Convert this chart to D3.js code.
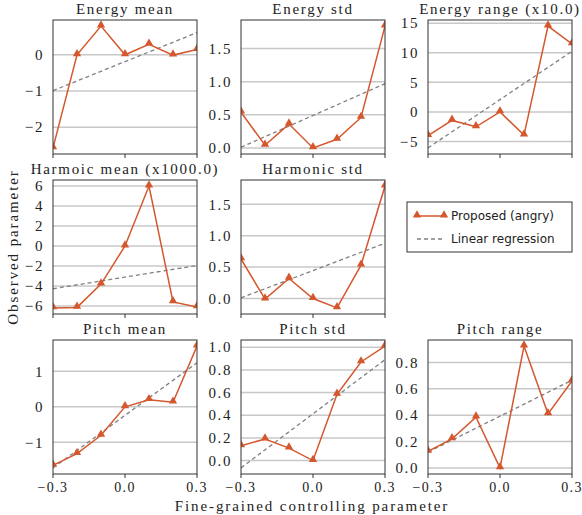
<!DOCTYPE html>
<html>
<head>
<meta charset="utf-8">
<script src="https://cdn.jsdelivr.net/npm/d3@7"></script>
<style>
  body { margin: 0; background: #fff; }
  text { font-family: "Times New Roman", "Liberation Serif", Times, serif; fill: #222; }
</style>
</head>
<body>
<script>
const width = 582,
  height = 515;

// x positions (fine-grained controlling parameter)
const xValues = [-0.3, -0.2, -0.1, 0.0, 0.1, 0.2, 0.3];
const xTicks = [-0.3, 0.0, 0.3];

// observed values, one array per panel
const energyMean = [-2.57, 0.0, 0.79, 0.0, 0.29, -0.01, 0.145];
const energyStd = [0.54, 0.04, 0.36, 0.0, 0.13, 0.46, 1.84];
const energyRange = [-4.0, -1.43, -2.5, 0.0, -3.9, 14.5, 11.5];
const harmonicMean = [-6.2, -6.15, -3.82, 0.0, 6.0, -5.6, -6.1];
const harmonicStd = [0.63, -0.01, 0.32, 0.0, -0.15, 0.53, 1.79];
const pitchMean = [-1.65, -1.32, -0.8, 0.0, 0.2, 0.13, 1.71];
const pitchStd = [0.13, 0.19, 0.11, 0.0, 0.585, 0.87, 1.01];
const pitchRange = [0.126, 0.22, 0.385, 0.0, 0.924, 0.41, 0.66];

// linear regression values at x = -0.3 and x = 0.3
const energyMeanReg = [-0.99, 0.61];
const energyStdReg = [0.01, 0.97];
const energyRangeReg = [-6.07, 10.25];
const harmonicMeanReg = [-4.28, -1.95];
const harmonicStdReg = [0.01, 0.88];
const pitchMeanReg = [-1.72, 1.24];
const pitchStdReg = [-0.065, 0.89];
const pitchRangeReg = [0.12, 0.665];

// y tick values per panel
const energyMeanTicks = [-2, -1, 0];
const energyStdTicks = [0, 0.5, 1.0, 1.5];
const energyRangeTicks = [-5, 0, 5, 10, 15];
const harmonicMeanTicks = [-6, -4, -2, 0, 2, 4, 6];
const harmonicStdTicks = [0, 0.5, 1.0, 1.5];
const pitchMeanTicks = [-1, 0, 1];
const pitchStdTicks = [0, 0.2, 0.4, 0.6, 0.8, 1.0];
const pitchRangeTicks = [0, 0.2, 0.4, 0.6, 0.8];

const titles = ["Energy mean", "Energy std", "Energy range (x10.0)",
  "Harmoic mean (x1000.0)", "Harmonic std",
  "Pitch mean", "Pitch std", "Pitch range"];

const seriesName = "Proposed (angry)";
const regName = "Linear regression";

const panels = [
  { title: titles[0], values: energyMean, reg: energyMeanReg, ticks: energyMeanTicks, fmt: "d", col: 0, row: 0 },
  { title: titles[1], values: energyStd, reg: energyStdReg, ticks: energyStdTicks, fmt: ".1f", col: 1, row: 0 },
  { title: titles[2], values: energyRange, reg: energyRangeReg, ticks: energyRangeTicks, fmt: "d", col: 2, row: 0 },
  { title: titles[3], values: harmonicMean, reg: harmonicMeanReg, ticks: harmonicMeanTicks, fmt: "d", col: 0, row: 1 },
  { title: titles[4], values: harmonicStd, reg: harmonicStdReg, ticks: harmonicStdTicks, fmt: ".1f", col: 1, row: 1 },
  { title: titles[5], values: pitchMean, reg: pitchMeanReg, ticks: pitchMeanTicks, fmt: "d", col: 0, row: 2 },
  { title: titles[6], values: pitchStd, reg: pitchStdReg, ticks: pitchStdTicks, fmt: ".1f", col: 1, row: 2 },
  { title: titles[7], values: pitchRange, reg: pitchRangeReg, ticks: pitchRangeTicks, fmt: ".1f", col: 2, row: 2 }
];

const colLeft = [53, 241, 428];
const rowTop = [20, 180, 340];
const pw = 144,
  ph = 134;

const lineColor = "#d4572d";

const svg = d3
  .select("body")
  .append("svg")
  .attr("width", width)
  .attr("height", height);

const tri = d3.symbol().type(d3.symbolTriangle).size(30);

const xScale = d3.scaleLinear().domain([-0.3, 0.3]).range([0, pw]);

panels.forEach((p, i) => {
  const g = svg
    .append("g")
    .attr("transform", `translate(${colLeft[p.col]},${rowTop[p.row]})`);

  // 5% padding around data + regression, like matplotlib autoscale
  const all = p.values.concat(p.reg);
  const lo = d3.min(all),
    hi = d3.max(all),
    pad = (hi - lo) * 0.05;
  const yScale = d3.scaleLinear().domain([lo - pad, hi + pad]).range([ph, 0]);

  g.append("clipPath")
    .attr("id", "clip" + i)
    .append("rect")
    .attr("width", pw)
    .attr("height", ph);

  // grid
  g.selectAll(".grid")
    .data(p.ticks)
    .enter()
    .append("line")
    .attr("x1", 0)
    .attr("x2", pw)
    .attr("y1", d => yScale(d))
    .attr("y2", d => yScale(d))
    .attr("stroke", "#c8c8c8")
    .attr("stroke-width", 1.5);

  // y tick labels
  const fmt = d3.format(p.fmt);
  g.selectAll(".ylab")
    .data(p.ticks)
    .enter()
    .append("text")
    .attr("x", -9)
    .attr("y", d => yScale(d))
    .attr("dy", "0.35em")
    .attr("text-anchor", "end")
    .style("font-size", "15px")
    .style("letter-spacing", "1.6px")
    .text(d => fmt(d));

  // x ticks
  g.selectAll(".xtick")
    .data(xTicks)
    .enter()
    .append("line")
    .attr("x1", d => xScale(d))
    .attr("x2", d => xScale(d))
    .attr("y1", ph)
    .attr("y2", ph + 4)
    .attr("stroke", "#333");

  if (p.row === 2) {
    g.selectAll(".xlab")
      .data(xTicks)
      .enter()
      .append("text")
      .attr("x", d => xScale(d))
      .attr("y", ph + 18)
      .attr("text-anchor", "middle")
      .style("font-size", "14px")
      .style("letter-spacing", "1.4px")
      .text(d => d3.format(".1f")(d));
  }

  const plot = g.append("g").attr("clip-path", `url(#clip${i})`);

  // regression
  plot
    .append("line")
    .attr("x1", xScale(-0.3))
    .attr("x2", xScale(0.3))
    .attr("y1", yScale(p.reg[0]))
    .attr("y2", yScale(p.reg[1]))
    .attr("stroke", "#808080")
    .attr("stroke-width", 1.3)
    .attr("stroke-dasharray", "4,3");

  const line = d3
    .line()
    .x((d, j) => xScale(xValues[j]))
    .y(d => yScale(d));

  plot
    .append("path")
    .attr("d", line(p.values))
    .attr("fill", "none")
    .attr("stroke", lineColor)
    .attr("stroke-width", 1.5);

  plot
    .selectAll(".pt")
    .data(p.values)
    .enter()
    .append("path")
    .attr("d", tri)
    .attr("transform", (d, j) => `translate(${xScale(xValues[j])},${yScale(d) - 1})`)
    .attr("fill", lineColor);

  // frame
  g.append("rect")
    .attr("width", pw)
    .attr("height", ph)
    .attr("fill", "none")
    .attr("stroke", "#333")
    .attr("stroke-width", 1);

  // title
  g.append("text")
    .attr("x", pw / 2)
    .attr("y", -6)
    .attr("text-anchor", "middle")
    .style("font-size", "15px")
    .style("letter-spacing", "1.7px")
    .text(p.title);
});

// legend in the empty slot
const legend = svg.append("g").attr("transform", "translate(407,202)");
legend
  .append("rect")
  .attr("width", 165)
  .attr("height", 50)
  .attr("fill", "#fff")
  .attr("stroke", "#333");

legend
  .append("line")
  .attr("x1", 10)
  .attr("x2", 37)
  .attr("y1", 14)
  .attr("y2", 14)
  .attr("stroke", lineColor)
  .attr("stroke-width", 1.5);
[10, 37].forEach(x =>
  legend
    .append("path")
    .attr("d", tri)
    .attr("transform", `translate(${x},13)`)
    .attr("fill", lineColor)
);
legend
  .append("line")
  .attr("x1", 10)
  .attr("x2", 37)
  .attr("y1", 37)
  .attr("y2", 37)
  .attr("stroke", "#808080")
  .attr("stroke-width", 1.3)
  .attr("stroke-dasharray", "4,3");

legend
  .selectAll(".ltxt")
  .data([seriesName, regName])
  .enter()
  .append("text")
  .attr("x", 44)
  .attr("y", (d, i) => 14 + i * 23)
  .attr("dy", "0.35em")
  .style("font-family", "'DejaVu Sans', Verdana, sans-serif")
  .style("font-size", "12px")
  .text(d => d);

// axis labels
svg
  .append("text")
  .attr("transform", `translate(18,247) rotate(-90)`)
  .attr("text-anchor", "middle")
  .style("font-size", "15px")
  .style("letter-spacing", "1.9px")
  .text("Observed parameter");

svg
  .append("text")
  .attr("x", 312)
  .attr("y", 511)
  .attr("text-anchor", "middle")
  .style("font-size", "15px")
  .style("letter-spacing", "1.9px")
  .text("Fine-grained controlling parameter");
</script>
</body>
</html>
